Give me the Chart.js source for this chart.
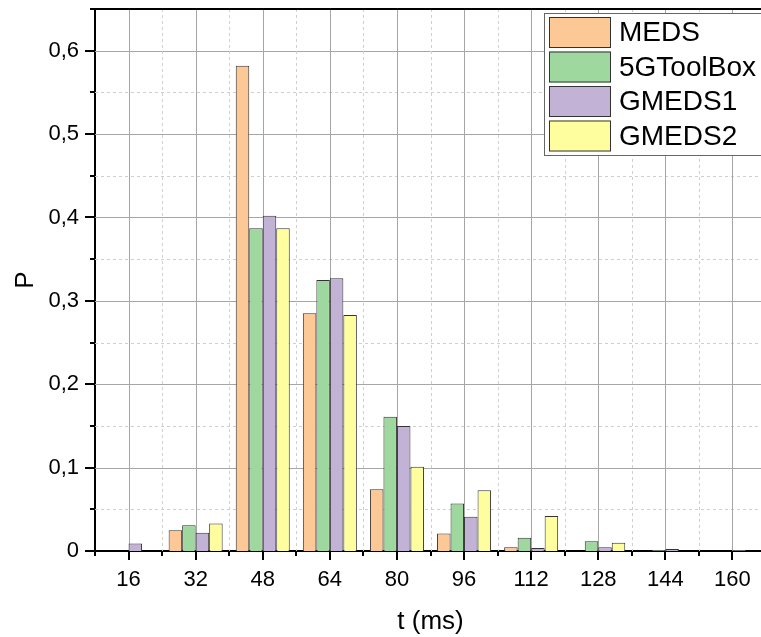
<!DOCTYPE html>
<html>
<head>
<meta charset="utf-8">
<script src="https://cdn.jsdelivr.net/npm/chart.js@4"></script>
<style>
html,body{margin:0;padding:0;overflow:hidden;background:#fff;}
#wrap{width:775px;height:637px;}
</style>
</head>
<body>
<div id="wrap"><canvas id="c" width="775" height="637"></canvas></div>
<script>
const categories = ['16','32','48','64','80','96','112','128','144','160'];
const seriesNames = ['MEDS','5GToolBox','GMEDS1','GMEDS2'];
const meds      = [0,     0.025, 0.582, 0.285, 0.074, 0.021, 0.0045, 0,      0,      0];
const toolbox5g = [0,     0.031, 0.387, 0.325, 0.161, 0.057, 0.016,  0.0117, 0.0012, 0];
const gmeds1    = [0.009, 0.022, 0.402, 0.327, 0.150, 0.041, 0.0036, 0.0045, 0.0024, 0.0012];
const gmeds2    = [0,     0.033, 0.387, 0.283, 0.101, 0.073, 0.042,  0.010,  0,      0];
const yTickLabels = ['0','0,1','0,2','0,3','0,4','0,5','0,6'];
const colors = ['#FCC896','#9FD89F','#C2B2D6','#FEFE9E'];

const FONT = "'Liberation Sans', Arial, sans-serif";

const decor = {
  id:'decor',
  beforeDatasetsDraw(chart){
    const {ctx, chartArea:a, scales:{x,y}} = chart;
    ctx.save();
    ctx.beginPath(); ctx.rect(a.left,a.top,a.right-a.left,a.bottom-a.top); ctx.clip();
    for(let i=1;i<=13;i++){
      const v=i*0.05, py=Math.round(y.getPixelForValue(v))+0.5;
      const major = i%2===0;
      ctx.beginPath();
      ctx.setLineDash(major?[]:[3,3]);
      ctx.strokeStyle = major?'#a6a6a6':'#cfcfcf';
      ctx.lineWidth=1;
      ctx.moveTo(a.left,py); ctx.lineTo(a.right,py); ctx.stroke();
    }
    const n = categories.length;
    const step = x.getPixelForValue(1)-x.getPixelForValue(0);
    for(let i=0;i<n;i++){
      const px=Math.round(x.getPixelForValue(i))+0.5;
      ctx.beginPath(); ctx.setLineDash([]); ctx.strokeStyle='#a6a6a6'; ctx.lineWidth=1;
      ctx.moveTo(px,a.top); ctx.lineTo(px,a.bottom); ctx.stroke();
      const bx=Math.round(x.getPixelForValue(i)+step/2)+0.5;
      ctx.beginPath(); ctx.setLineDash([3,3]); ctx.strokeStyle='#cfcfcf';
      ctx.moveTo(bx,a.top); ctx.lineTo(bx,a.bottom); ctx.stroke();
    }
    ctx.restore();
  },
  afterDatasetsDraw(chart){
    const {ctx, chartArea:a, scales:{x,y}} = chart;
    ctx.save();
    ctx.setLineDash([]);
    ctx.strokeStyle='#000'; ctx.lineWidth=2;
    ctx.beginPath(); ctx.moveTo(a.left-1,a.top); ctx.lineTo(a.right+5,a.top); ctx.stroke();
    for(let i=0;i<=13;i++){
      const py=Math.round(y.getPixelForValue(i*0.05));
      const len = i%2===0?10:5;
      ctx.beginPath(); ctx.moveTo(a.left,py); ctx.lineTo(a.left-len,py); ctx.stroke();
    }
    const n=categories.length;
    const step = x.getPixelForValue(1)-x.getPixelForValue(0);
    for(let i=0;i<n;i++){
      const px=Math.round(x.getPixelForValue(i));
      ctx.beginPath(); ctx.moveTo(px,a.bottom); ctx.lineTo(px,a.bottom+9); ctx.stroke();
      const bx=Math.round(x.getPixelForValue(i)-step/2);
      ctx.beginPath(); ctx.moveTo(bx,a.bottom); ctx.lineTo(bx,a.bottom+5); ctx.stroke();
    }
    ctx.restore();
    // legend
    ctx.save();
    const lx=544, ly=13;
    ctx.fillStyle='#fff';
    ctx.fillRect(lx,ly,240,142);
    ctx.strokeStyle='#666'; ctx.lineWidth=1;
    ctx.strokeRect(lx+0.5,ly+0.5,240,142);
    ctx.font = "28px "+FONT;
    ctx.textBaseline='middle';
    chart.data.datasets.forEach((ds,i)=>{
      const sy = 17 + i*34.5;
      ctx.fillStyle=ds.backgroundColor;
      ctx.fillRect(549,sy,62,31);
      ctx.strokeStyle='#333'; ctx.lineWidth=1;
      ctx.strokeRect(549.5,sy+0.5,61,30);
      ctx.fillStyle='#000';
      ctx.fillText(ds.label,619,sy+16.5);
    });
    ctx.restore();
  }
};

const seriesData=[meds,toolbox5g,gmeds1,gmeds2];
new Chart(document.getElementById('c'),{
  type:'bar',
  data:{
    labels:categories,
    datasets:seriesNames.map((name,i)=>({
      label:name, data:seriesData[i], backgroundColor:colors[i],
      borderColor:'#333', borderWidth:1,
      barPercentage:1, categoryPercentage:0.805
    }))
  },
  options:{
    responsive:false, animation:false,
    layout:{padding:{left:0,right:9,top:9,bottom:0}},
    plugins:{legend:{display:false},tooltip:{enabled:false}},
    scales:{
      x:{
        offset:true,
        grid:{display:false},
        border:{display:true,color:'#000',width:2},
        ticks:{font:{family:FONT,size:22},color:'#000',padding:8,maxRotation:0,autoSkip:false},
        title:{display:true,text:'t (ms)',font:{family:FONT,size:26},color:'#000',padding:{top:0,bottom:0}},
        afterFit(s){ s.height=86; s.paddingLeft=0; s.paddingRight=0; }
      },
      y:{
        min:0,max:0.65,
        grid:{display:false},
        border:{display:true,color:'#000',width:2},
        ticks:{stepSize:0.1,includeBounds:false,font:{family:FONT,size:22},color:'#000',padding:8,
          callback:(v)=>{const k=Math.round(v*10); return (Math.abs(v*10-k)<1e-6 && yTickLabels[k]!==undefined)?yTickLabels[k]:'';}},
        title:{display:true,text:'P',font:{family:FONT,size:26},color:'#000',padding:{top:10,bottom:0}},
        afterFit(s){ s.width=95; s.paddingTop=0; s.paddingBottom=0; }
      }
    }
  },
  plugins:[decor]
});
</script>
</body>
</html>
